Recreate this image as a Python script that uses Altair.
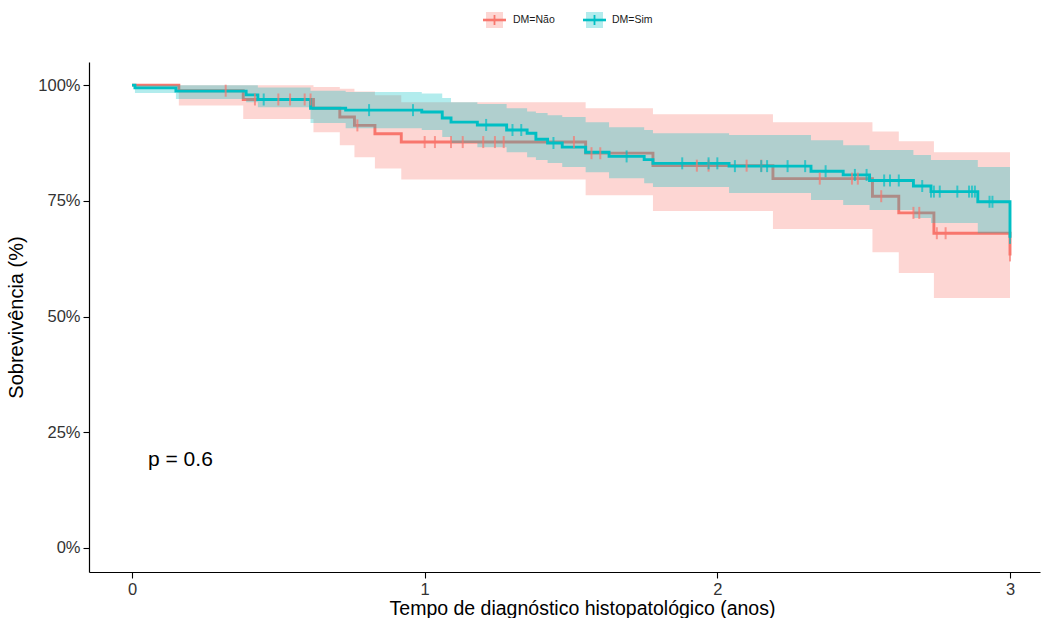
import altair as alt
import pandas as pd

# ---- Kaplan-Meier curves (time in years, survival in %) ----
nao_t = [0, 0.16, 0.38, 0.62, 0.71, 0.76, 0.83, 0.92, 1.55, 1.78, 2.19, 2.53, 2.62, 2.74, 3.0]
nao_s = [100, 98.8, 96.9, 95.0, 93.1, 91.3, 89.5, 87.7, 85.3, 82.6, 79.8, 76.0, 72.4, 68.0, 63.2]
nao_lo = [100, 95.6, 92.7, 89.8, 87.0, 84.4, 82.0, 79.6, 76.2, 72.8, 68.9, 63.9, 59.4, 54.0, 54.0]
nao_hi = [100, 100, 100, 99.6, 99.2, 98.6, 97.8, 96.3, 95.0, 93.7, 92.0, 90.0, 87.9, 85.5, 85.5]

sim_t = [0, 0.01, 0.15, 0.39, 0.43, 0.61, 0.73, 0.99, 1.06, 1.09, 1.18, 1.28, 1.35, 1.38, 1.42,
         1.47, 1.55, 1.63, 1.75, 1.78, 2.04, 2.32, 2.43, 2.52, 2.67, 2.73, 2.89, 3.0]
sim_s = [100, 99.4, 98.7, 97.9, 96.9, 95.0, 94.6, 94.2, 92.9, 92.0, 91.4, 90.3, 89.6, 88.3, 87.5,
         86.6, 85.5, 84.6, 83.9, 83.1, 82.5, 81.4, 80.6, 79.4, 78.2, 77.0, 74.8, 67.0]
sim_lo = [100, 98.3, 97.0, 96.3, 95.2, 91.8, 90.7, 90.3, 88.8, 87.5, 86.6, 85.5, 84.4, 83.8, 83.2,
          82.3, 81.2, 79.9, 78.8, 78.0, 76.7, 75.2, 74.1, 73.0, 71.3, 70.2, 68.0, 68.0]
sim_hi = [100, 100, 100, 100, 99.5, 98.8, 98.5, 98.2, 97.2, 96.3, 95.9, 95.0, 94.3, 94.0, 93.5,
          93.1, 92.0, 90.9, 90.3, 89.6, 89.2, 88.1, 87.0, 86.0, 84.9, 83.8, 82.3, 82.3]

# ---- censoring marks ----
nao_ct = [0.32, 0.42, 0.50, 0.54, 0.59, 0.61, 0.77, 1.00, 1.035, 1.09, 1.13, 1.20, 1.24, 1.27, 1.51,
          1.57, 1.60, 1.93, 1.97, 2.10, 2.15, 2.35, 2.46, 2.48, 2.56, 2.67, 2.69, 2.75, 2.78, 3.0]
nao_cs = [98.8, 96.9, 96.9, 96.9, 96.9, 96.9, 91.3, 87.7, 87.7, 87.7, 87.7, 87.7, 87.7, 87.7, 87.7,
          85.3, 85.3, 82.6, 82.6, 82.6, 82.6, 79.8, 79.8, 79.8, 76.0, 72.4, 72.4, 68.0, 68.0, 63.2]
sim_ct = [0.45, 0.81, 0.96, 1.21, 1.30, 1.33, 1.44, 1.69, 1.88, 1.97, 2.00, 2.06, 2.15, 2.17, 2.24,
          2.30, 2.37, 2.47, 2.51, 2.57, 2.59, 2.62, 2.70, 2.73, 2.74, 2.76, 2.82, 2.86, 2.87, 2.88,
          2.93, 2.94, 3.0]
sim_cs = [96.9, 94.6, 94.6, 91.4, 90.3, 90.3, 87.5, 84.6, 83.1, 83.1, 83.1, 82.5, 82.5, 82.5, 82.5,
          82.5, 81.4, 80.6, 80.6, 79.4, 79.4, 79.4, 78.2, 77.0, 77.0, 77.0, 77.0, 77.0, 77.0, 77.0,
          74.8, 74.8, 67.0]

groups = ["DM=Não", "DM=Sim"]
colors = ["#F8766D", "#00BFC4"]
x_ticks = [0, 1, 2, 3]
y_ticks = [0, 25, 50, 75, 100]


def curve_df(g, t, s):
    return pd.DataFrame({"grupo": g, "t": t, "s": s, "ord": list(range(len(t)))})


def band_df(g, t, lo, hi):
    return pd.DataFrame({"grupo": g, "t": t, "lo": lo, "hi": hi})


def cens_df(g, t, s):
    return pd.DataFrame({"grupo": g, "t": t, "s": s})


xscale = alt.Scale(domain=[-0.147, 3.1025], nice=False, zero=False)
yscale = alt.Scale(domain=[-5.2, 105], nice=False, zero=False)
cscale = alt.Scale(domain=groups, range=colors)

xaxis = alt.Axis(values=x_ticks, title="Tempo de diagnóstico histopatológico (anos)", grid=False,
                 format="d", titleFontSize=19.5, titleX=493, titleY=36, titleBaseline="middle")
yaxis = alt.Axis(values=y_ticks, title="Sobrevivência (%)", grid=False, labelExpr="datum.value + '%'",
                 titleFontSize=20)


def band(g, t, lo, hi):
    return alt.Chart(band_df(g, t, lo, hi)).mark_area(interpolate="step-after", opacity=0.3).encode(
        x=alt.X("t:Q", scale=xscale, axis=xaxis),
        y=alt.Y("lo:Q", scale=yscale, axis=yaxis),
        y2="hi:Q",
        color=alt.Color("grupo:N", scale=cscale, legend=None),
    )


def line(g, t, s):
    return alt.Chart(curve_df(g, t, s)).mark_line(interpolate="step-after", strokeWidth=2.9).encode(
        x=alt.X("t:Q", scale=xscale, axis=xaxis),
        y=alt.Y("s:Q", scale=yscale, axis=yaxis),
        order="ord:Q",
        color=alt.Color("grupo:N", scale=cscale, legend=None),
    )


def cens(g, t, s):
    return alt.Chart(cens_df(g, t, s)).mark_tick(orient="vertical", size=12, thickness=2).encode(
        x=alt.X("t:Q", scale=xscale, axis=xaxis),
        y=alt.Y("s:Q", scale=yscale, axis=yaxis),
        color=alt.Color("grupo:N", scale=cscale, legend=None),
    )


# ---- custom legend (pixel positions relative to plot origin) ----
leg_box_x = [397, 497]
leg_text_x = [424, 523]
leg_y = -42

leg_layers = []
for i, g in enumerate(groups):
    d = pd.DataFrame({"grupo": [g]})
    bx = leg_box_x[i]
    leg_layers.append(alt.Chart(d).mark_rect(opacity=0.3).encode(
        x=alt.value(bx), x2=alt.value(bx + 17), y=alt.value(leg_y - 8), y2=alt.value(leg_y + 8),
        color=alt.Color("grupo:N", scale=cscale, legend=None)))
    leg_layers.append(alt.Chart(d).mark_rule(strokeWidth=2.6).encode(
        x=alt.value(bx - 3), x2=alt.value(bx + 20), y=alt.value(leg_y),
        color=alt.Color("grupo:N", scale=cscale, legend=None)))
    leg_layers.append(alt.Chart(d).mark_rule(strokeWidth=1.8).encode(
        x=alt.value(bx + 8.5), y=alt.value(leg_y - 5), y2=alt.value(leg_y + 5),
        color=alt.Color("grupo:N", scale=cscale, legend=None)))
    leg_layers.append(alt.Chart(d).mark_text(align="left", baseline="middle", fontSize=10.5,
                                             font="Liberation Sans", color="#1a1a1a").encode(
        x=alt.value(leg_text_x[i]), y=alt.value(leg_y), text="grupo:N"))

pval = alt.Chart(pd.DataFrame({"p": ["p = 0.6"]})).mark_text(
    align="left", baseline="middle", fontSize=21, font="Liberation Sans", color="#000000"
).encode(x=alt.value(59), y=alt.value(398), text="p:N")

chart = alt.layer(
    band(groups[0], nao_t, nao_lo, nao_hi),
    line(groups[0], nao_t, nao_s),
    band(groups[1], sim_t, sim_lo, sim_hi),
    line(groups[1], sim_t, sim_s),
    cens(groups[0], nao_ct, nao_cs),
    cens(groups[1], sim_ct, sim_cs),
    pval,
    *leg_layers,
).properties(
    width=951, height=510,
    autosize=alt.AutoSizeParams(type="none"),
    padding={"left": 89, "top": 62, "right": 2, "bottom": 46},
).configure_view(stroke=None).configure_axis(
    domainColor="#000000", domainWidth=1.2, tickColor="#000000", tickWidth=1.1, tickSize=6,
    labelColor="#333333", labelFontSize=16.5, labelFont="Liberation Sans",
    titleColor="#000000", titleFont="Liberation Sans", titleFontWeight="normal",
    labelPadding=3,
).configure_axisY(titlePadding=11)

chart.save("out.html", embed_options={"renderer": "svg", "actions": False})
